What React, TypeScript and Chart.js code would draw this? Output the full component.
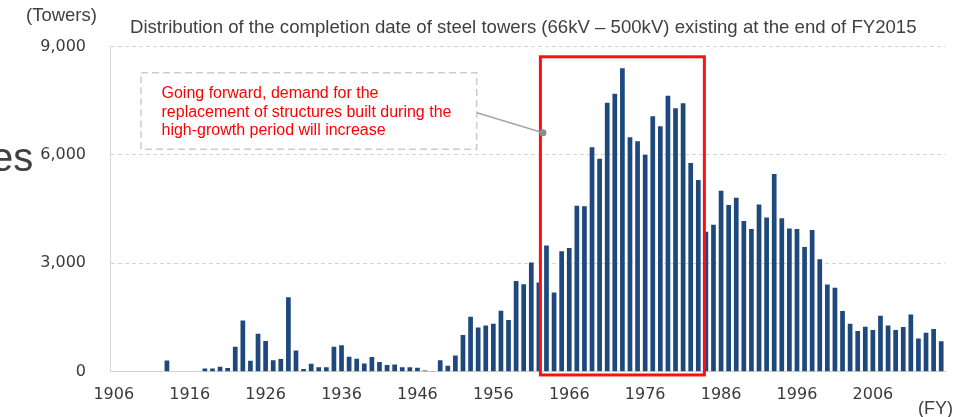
import React, { useEffect, useRef } from 'react';
import { Chart, registerables } from 'chart.js';

Chart.register(...registerables);

// ---------- data ----------
const firstYear = 1906;
const lastYear = 2015;
const years: string[] = Array.from({ length: lastYear - firstYear + 1 }, (_, i) => String(firstYear + i));
const labelledYears = ['1906', '1916', '1926', '1936', '1946', '1956', '1966', '1976', '1986', '1996', '2006'];
const yTicks = [0, 3000, 6000, 9000];

const towers1906to1915 = [0, 0, 0, 0, 0, 0, 0, 310, 0, 0];
const towers1916to1925 = [0, 0, 90, 90, 140, 100, 690, 1420, 305, 1050];
const towers1926to1935 = [850, 320, 350, 2060, 590, 75, 220, 120, 120, 690];
const towers1936to1945 = [730, 415, 360, 230, 405, 265, 185, 200, 120, 120];
const towers1946to1955 = [110, 30, 20, 320, 165, 445, 1015, 1520, 1220, 1280];
const towers1956to1965 = [1330, 1690, 1430, 2510, 2420, 3020, 2470, 3490, 2190, 3335];
const towers1966to1975 = [3425, 4590, 4580, 6210, 5890, 7440, 7690, 8400, 6490, 6375];
const towers1976to1985 = [6005, 7070, 6790, 7640, 7290, 7430, 5775, 5305, 3875, 4070];
const towers1986to1995 = [5005, 4615, 4815, 4170, 3950, 4630, 4270, 5470, 4245, 3960];
const towers1996to2005 = [3950, 3450, 3920, 3110, 2410, 2325, 1680, 1330, 1125, 1245];
const towers2006to2015 = [1155, 1550, 1280, 1155, 1235, 1580, 920, 1080, 1180, 840];

const towers: number[] = [
  ...towers1906to1915, ...towers1916to1925, ...towers1926to1935, ...towers1936to1945,
  ...towers1946to1955, ...towers1956to1965, ...towers1966to1975, ...towers1976to1985,
  ...towers1986to1995, ...towers1996to2005, ...towers2006to2015,
];

// highlight (red frame) in category-index / value units
const highlightFromIndex = 56.2; // just right of 1962
const highlightToIndex = 77.8;   // around 1984
const highlightTopValue = 8715;
const highlightBottomValue = -90;
const connectorValue = 6615;

const titleText = 'Distribution of the completion date of steel towers (66kV \u2013 500kV) existing at the end of FY2015';
const calloutLines = [
  'Going forward, demand for the',
  'replacement of structures built during the',
  'high-growth period will increase',
];

const fmt = (v: number) => v.toLocaleString('en-US');

const overlayPlugin = {
  id: 'overlayPlugin',
  afterDatasetsDraw(chart: any) {
    const { ctx, scales } = chart;
    const x = scales.x;
    const y = scales.y;
    const l = x.getPixelForValue(highlightFromIndex);
    const r = x.getPixelForValue(highlightToIndex);
    const t = y.getPixelForValue(highlightTopValue);
    const b = y.getPixelForValue(highlightBottomValue);
    ctx.save();
    // red frame
    ctx.strokeStyle = '#ff1010';
    ctx.lineWidth = 3;
    ctx.strokeRect(l, t, r - l, b - t);
    // callout dashed box
    ctx.setLineDash([7, 4]);
    ctx.strokeStyle = '#cccccc';
    ctx.lineWidth = 1.5;
    ctx.strokeRect(141, 72.7, 335.7, 76.6);
    ctx.setLineDash([]);
    // connector
    const cy = y.getPixelForValue(connectorValue);
    ctx.strokeStyle = '#a6a6a6';
    ctx.lineWidth = 1.5;
    ctx.beginPath();
    ctx.moveTo(477, 112.7);
    ctx.lineTo(l + 2.5, cy);
    ctx.stroke();
    ctx.fillStyle = '#8c8c8c';
    ctx.beginPath();
    ctx.arc(l + 2.5, cy, 3.5, 0, Math.PI * 2);
    ctx.fill();
    ctx.restore();
  },
};

export default function App() {
  const canvasRef = useRef<HTMLCanvasElement | null>(null);

  useEffect(() => {
    const canvas = canvasRef.current;
    if (!canvas) return;
    const chart = new Chart(canvas, {
      type: 'bar',
      data: {
        labels: years,
        datasets: [
          {
            data: towers,
            backgroundColor: '#1f497d',
            barPercentage: 0.62,
            categoryPercentage: 1.0,
          },
        ],
      },
      options: {
        responsive: false,
        animation: false,
        devicePixelRatio: 1,
        layout: { padding: { top: 46.5, right: 15, left: 0, bottom: 0 } },
        plugins: {
          legend: { display: false },
          tooltip: { enabled: false },
          title: { display: false },
        },
        scales: {
          x: {
            offset: true,
            grid: { display: false, drawTicks: false },
            border: { display: true, color: '#d0d0d0', width: 1 },
            ticks: {
              autoSkip: false,
              maxRotation: 0,
              minRotation: 0,
              padding: 14,
              color: '#3a3a3a',
              font: { family: '"DejaVu Sans", Verdana, sans-serif', size: 16 },
              callback: (_v: any, i: number) => (labelledYears.includes(years[i]) ? years[i] : ''),
            },
            afterFit: (s: any) => {
              s.height = 45.3;
            },
          },
          y: {
            min: 0,
            max: 9000,
            afterBuildTicks: (s: any) => {
              s.ticks = yTicks.map((v) => ({ value: v }));
            },
            grid: { color: '#d4d4d4', lineWidth: 1, drawTicks: false },
            border: { display: true, color: '#d9d9d9', width: 1, dash: [4, 3] },
            ticks: {
              padding: 24,
              color: '#3a3a3a',
              font: { family: '"DejaVu Sans", Verdana, sans-serif', size: 16 },
              callback: (v: any) => fmt(Number(v)),
            },
            afterFit: (s: any) => {
              s.width = 110;
            },
          },
        },
      },
      plugins: [overlayPlugin],
    });
    return () => chart.destroy();
  }, []);

  const textFont = '"Liberation Sans", Arial, sans-serif';

  return (
    <div style={{ position: 'fixed', left: 0, top: 0, width: 960, height: 417, background: '#ffffff', overflow: 'hidden' }}>
      <canvas ref={canvasRef} width={960} height={417} style={{ position: 'absolute', left: 0, top: 0, width: 960, height: 417 }} />
      <div style={{ position: 'absolute', left: -9, top: 137, fontFamily: textFont, fontSize: 40, lineHeight: '40px', color: '#404040', whiteSpace: 'nowrap' }}>es</div>
      <div style={{ position: 'absolute', left: 26, top: 6, fontFamily: textFont, fontSize: 18.5, lineHeight: '18.5px', color: '#404040', whiteSpace: 'nowrap' }}>(Towers)</div>
      <div style={{ position: 'absolute', left: 130, top: 18.3, fontFamily: textFont, fontSize: 18.6, lineHeight: '18.6px', color: '#404040', whiteSpace: 'nowrap' }}>{titleText}</div>
      <div style={{ position: 'absolute', left: 161.5, top: 84, fontFamily: textFont, fontSize: 16, lineHeight: '18.5px', color: '#ff0000', whiteSpace: 'nowrap' }}>
        {calloutLines.map((ln) => (
          <div key={ln}>{ln}</div>
        ))}
      </div>
      <div style={{ position: 'absolute', left: 918, top: 399, fontFamily: textFont, fontSize: 18, lineHeight: '18px', color: '#404040', whiteSpace: 'nowrap' }}>(FY)</div>
    </div>
  );
}
